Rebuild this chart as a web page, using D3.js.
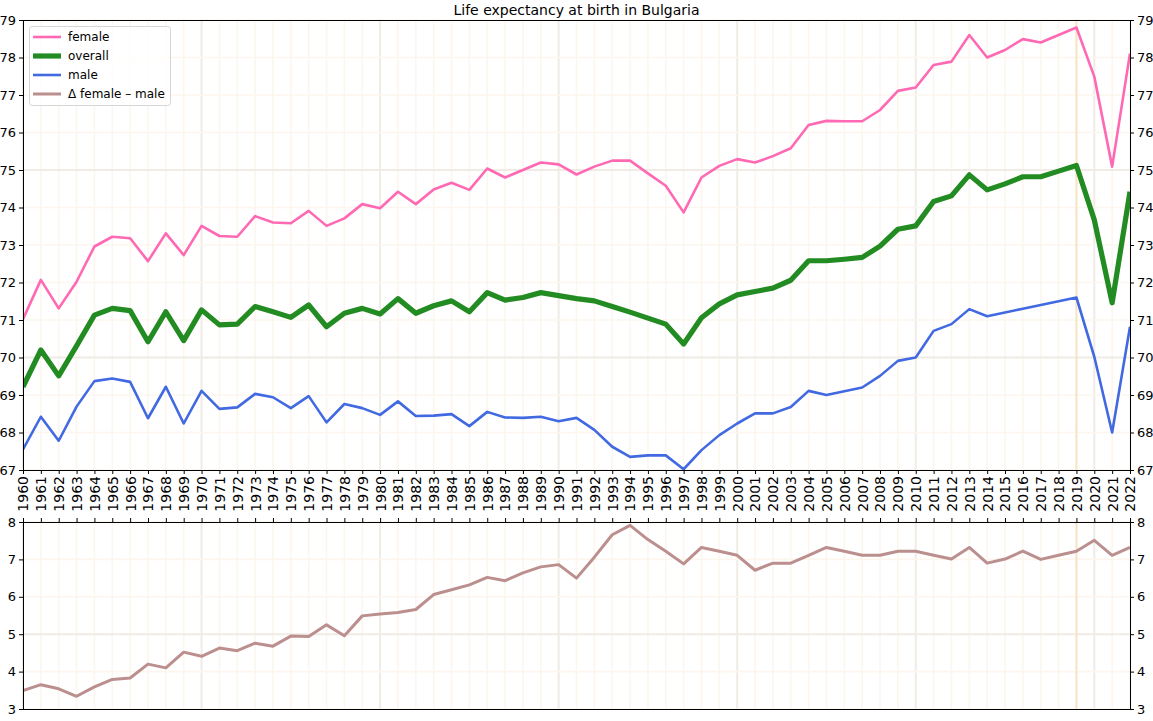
<!DOCTYPE html>
<html>
<head>
<meta charset="utf-8">
<script src="https://cdn.jsdelivr.net/npm/d3@7"></script>
<style>
  html, body { margin: 0; padding: 0; background: #fff; }
  svg { display: block; font-family: "DejaVu Sans", sans-serif; }
</style>
</head>
<body>
<svg id="chart" width="1153" height="721"></svg>
<script>
const years = d3.range(1960, 2023);
const female = [71.02,72.07,71.31,72.02,72.96,73.22,73.18,72.57,73.31,72.73,
  73.51,73.24,73.22,73.77,73.6,73.58,73.91,73.51,73.71,74.09,
  73.98,74.42,74.09,74.48,74.66,74.47,75.04,74.8,75.0,75.2,
  75.15,74.88,75.09,75.25,75.25,74.91,74.58,73.87,74.8,75.11,
  75.29,75.2,75.37,75.58,76.2,76.31,76.3,76.3,76.6,77.11,
  77.2,77.8,77.89,78.6,78.0,78.2,78.49,78.4,78.6,78.8,
  77.49,75.09,78.11];
const overall = [69.22,70.2,69.51,70.31,71.13,71.31,71.25,70.42,71.22,70.45,
  71.27,70.87,70.89,71.36,71.22,71.07,71.4,70.82,71.18,71.31,
  71.16,71.57,71.18,71.38,71.51,71.22,71.73,71.53,71.6,71.73,
  71.65,71.57,71.51,71.36,71.21,71.05,70.89,70.36,71.06,71.43,
  71.67,71.76,71.85,72.06,72.58,72.58,72.62,72.67,72.97,73.42,
  73.51,74.16,74.31,74.87,74.47,74.63,74.82,74.82,74.97,75.12,
  73.67,71.46,74.42];
const male = [67.55,68.42,67.78,68.69,69.37,69.44,69.35,68.38,69.22,68.24,
  69.11,68.63,68.67,69.03,68.94,68.65,68.97,68.27,68.76,68.65,
  68.47,68.83,68.44,68.45,68.49,68.17,68.55,68.4,68.39,68.42,
  68.3,68.39,68.07,67.62,67.35,67.39,67.39,67.02,67.53,67.93,
  68.24,68.51,68.51,68.68,69.11,69.0,69.1,69.2,69.51,69.91,
  70.0,70.71,70.89,71.29,71.1,71.2,71.3,71.4,71.5,71.6,
  70.02,68.0,70.82];
const delta = [3.49,3.65,3.54,3.34,3.59,3.79,3.83,4.2,4.1,4.52,
  4.41,4.63,4.56,4.76,4.68,4.95,4.94,5.25,4.96,5.49,
  5.54,5.58,5.66,6.06,6.19,6.32,6.52,6.43,6.64,6.8,
  6.86,6.5,7.06,7.66,7.91,7.53,7.22,6.88,7.32,7.22,
  7.11,6.71,6.9,6.9,7.11,7.32,7.22,7.11,7.11,7.22,
  7.22,7.11,7.01,7.32,6.9,7.01,7.22,7.0,7.11,7.22,
  7.51,7.11,7.32];
const topTicks = d3.range(67, 80);
const bottomTicks = d3.range(3, 9);
const markerYear = 2019;
const titleText = "Life expectancy at birth in Bulgaria";
const legendLabels = ["female", "overall", "male", "Δ female – male"];

const colors = { female: "#ff69b4", overall: "#228b22", male: "#4169e1", delta: "#bc8f8f" };
const widths = { female: 2.6, overall: 5.2, male: 2.6, delta: 3 };

const svg = d3.select("#chart");
const L = 23, R = 1130;
const T1 = 20, B1 = 470, T2 = 522, B2 = 709;

const x = d3.scaleLinear().domain([1960, 2022]).range([L, R]);
const y1 = d3.scaleLinear().domain([67, 79]).range([B1, T1]);
const y2 = d3.scaleLinear().domain([3, 8]).range([B2, T2]);

const minorCol = "#fdf6ee", majorCol = "#f0ebe4";

function grid(g, y, vticks, top, bottom) {
  g.selectAll("line.vg").data(years).join("line")
    .attr("x1", d => x(d)).attr("x2", d => x(d))
    .attr("y1", top).attr("y2", bottom)
    .attr("stroke", d => d % 10 === 0 ? majorCol : minorCol)
    .attr("stroke-width", d => d % 10 === 0 ? 2 : 1.6);
  g.selectAll("line.hg").data(vticks).join("line")
    .attr("x1", L).attr("x2", R)
    .attr("y1", d => y(d)).attr("y2", d => y(d))
    .attr("stroke", d => d % 5 === 0 ? majorCol : minorCol)
    .attr("stroke-width", d => d % 5 === 0 ? 2 : 1.6);
  g.append("line")
    .attr("x1", x(markerYear)).attr("x2", x(markerYear))
    .attr("y1", top).attr("y2", bottom)
    .attr("stroke", "#f6e4c2").attr("stroke-width", 2);
}

svg.append("defs").append("clipPath").attr("id", "clip1")
  .append("rect").attr("x", L).attr("y", T1).attr("width", R - L).attr("height", B1 - T1);
svg.select("defs").append("clipPath").attr("id", "clip2")
  .append("rect").attr("x", L).attr("y", T2).attr("width", R - L).attr("height", B2 - T2);

grid(svg.append("g"), y1, topTicks, T1, B1);
grid(svg.append("g"), y2, bottomTicks, T2, B2);

const line1 = vals => d3.line().x((d, i) => x(years[i])).y(d => y1(d))(vals);
const line2 = vals => d3.line().x((d, i) => x(years[i])).y(d => y2(d))(vals);

const g1 = svg.append("g").attr("clip-path", "url(#clip1)");
[["female", female], ["overall", overall], ["male", male]].forEach(([k, v]) => {
  g1.append("path").attr("d", line1(v)).attr("fill", "none")
    .attr("stroke", colors[k]).attr("stroke-width", widths[k])
    .attr("stroke-linejoin", "round").attr("stroke-linecap", "butt");
});
svg.append("g").attr("clip-path", "url(#clip2)")
  .append("path").attr("d", line2(delta)).attr("fill", "none")
  .attr("stroke", colors.delta).attr("stroke-width", widths.delta)
  .attr("stroke-linejoin", "round");

// Axes
function styleAxis(g, fs) {
  g.selectAll(".domain").remove();
  g.selectAll(".tick line").attr("stroke", "#000").attr("stroke-width", 1);
  g.selectAll(".tick text").attr("font-size", fs).attr("fill", "#000")
    .attr("font-family", "DejaVu Sans, sans-serif");
}
const xa = svg.append("g").attr("transform", `translate(0,${B1})`)
  .call(d3.axisBottom(x).tickValues(years).tickFormat(d3.format("d")).tickSize(4).tickPadding(3));
styleAxis(xa, 14);
xa.selectAll(".tick text").attr("transform", "rotate(-90)")
  .attr("text-anchor", "end").attr("dy", "0.35em").attr("x", -6).attr("y", 0);

const xa2 = svg.append("g").attr("transform", `translate(0,${T2})`)
  .call(d3.axisTop(x).tickValues(years).tickFormat("").tickSize(4));
styleAxis(xa2, 13);

[[y1, topTicks], [y2, bottomTicks]].forEach(([y, tv]) => {
  const gl = svg.append("g").attr("transform", `translate(${L},0)`)
    .call(d3.axisLeft(y).tickValues(tv).tickFormat(d3.format("d")).tickSize(4).tickPadding(3));
  styleAxis(gl, 13);
  const gr = svg.append("g").attr("transform", `translate(${R},0)`)
    .call(d3.axisRight(y).tickValues(tv).tickFormat(d3.format("d")).tickSize(4).tickPadding(3));
  styleAxis(gr, 13);
});

// Frames
[[T1, B1], [T2, B2]].forEach(([t, b]) => {
  svg.append("rect").attr("x", L).attr("y", t).attr("width", R - L).attr("height", b - t)
    .attr("fill", "none").attr("stroke", "#000").attr("stroke-width", 1)
    .attr("shape-rendering", "crispEdges");
});

// Title
svg.append("text").attr("x", (L + R) / 2).attr("y", 15)
  .attr("text-anchor", "middle").attr("font-size", 14).attr("fill", "#000")
  .text(titleText);

// Legend
const lg = svg.append("g");
lg.append("rect").attr("x", 29.5).attr("y", 26.5).attr("width", 141).attr("height", 79)
  .attr("rx", 3).attr("fill", "#fff").attr("fill-opacity", 0.8)
  .attr("stroke", "#d6d6d6").attr("stroke-width", 1);
const keys = ["female", "overall", "male", "delta"];
keys.forEach((k, i) => {
  const yy = 37 + i * 19;
  lg.append("line").attr("x1", 33).attr("x2", 61).attr("y1", yy).attr("y2", yy)
    .attr("stroke", colors[k]).attr("stroke-width", widths[k]);
  lg.append("text").attr("x", 68).attr("y", yy).attr("dy", "0.35em")
    .attr("font-size", 12).attr("fill", "#000").text(legendLabels[i]);
});
</script>
</body>
</html>
